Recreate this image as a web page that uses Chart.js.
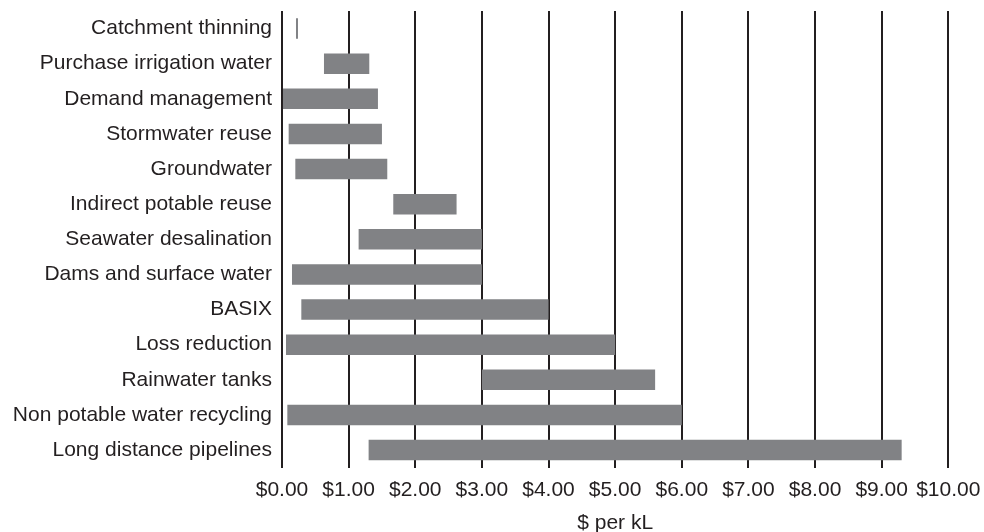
<!DOCTYPE html>
<html>
<head>
<meta charset="utf-8">
<script src="https://cdn.jsdelivr.net/npm/chart.js@4.4.1/dist/chart.umd.min.js"></script>
<style>
    html, body { margin: 0; padding: 0; background: #ffffff; }
    #wrap { width: 984px; height: 532px; }
</style>
</head>
<body>
<div id="wrap"><canvas id="costChart" width="984" height="532"></canvas></div>
<script>
// Options (top to bottom as they appear on the chart)
let options = [
    "Catchment thinning",
    "Purchase irrigation water",
    "Demand management",
    "Stormwater reuse",
    "Groundwater",
    "Indirect potable reuse",
    "Seawater desalination",
    "Dams and surface water",
    "BASIX",
    "Loss reduction",
    "Rainwater tanks",
    "Non potable water recycling",
    "Long distance pipelines"
];

// Low and high cost estimates, $ per kL
let lowCost  = [0.21, 0.63, 0.00, 0.10, 0.20, 1.67, 1.15, 0.15, 0.29, 0.06, 3.00, 0.08, 1.30];
let highCost = [0.24, 1.31, 1.44, 1.50, 1.58, 2.62, 3.00, 3.00, 4.00, 5.00, 5.60, 6.00, 9.30];

// x axis ticks
let tickValues = [0, 1, 2, 3, 4, 5, 6, 7, 8, 9, 10];

const ink = "#231f20";
const font = { family: "'Liberation Sans', Arial, Helvetica, sans-serif", size: 21 };

let ranges = lowCost.map((lo, i) => [lo, highCost[i]]);

const ctx = document.getElementById("costChart").getContext("2d");
new Chart(ctx, {
    type: "bar",
    data: {
        labels: options,
        datasets: [{
            label: "$ per kL",
            data: ranges,
            backgroundColor: "#818285",
            borderWidth: 0,
            categoryPercentage: 1.0,
            barPercentage: 0.585
        }]
    },
    options: {
        indexAxis: "y",
        responsive: false,
        animation: false,
        layout: { padding: { top: 11, right: 35.7, left: 0, bottom: 0 } },
        plugins: {
            legend: { display: false },
            tooltip: { enabled: false }
        },
        scales: {
            x: {
                type: "linear",
                min: tickValues[0],
                max: tickValues[tickValues.length - 1],
                afterBuildTicks: scale => {
                    scale.ticks = tickValues.map(v => ({ value: v }));
                },
                afterFit: scale => {
                    scale.height = 64.4;
                    scale.paddingLeft = 0;
                    scale.paddingRight = 0;
                },
                grid: { color: ink, lineWidth: 2, drawTicks: false },
                border: { display: false },
                ticks: {
                    color: ink,
                    font: font,
                    padding: 10,
                    maxRotation: 0,
                    autoSkip: false,
                    callback: v => "$" + Number(v).toFixed(2)
                },
                title: {
                    display: true,
                    text: "$ per kL",
                    color: ink,
                    font: { family: font.family, size: 21, lineHeight: 1 },
                    padding: { top: 0, bottom: -2 }
                }
            },
            y: {
                afterFit: scale => {
                    scale.width = 282;
                    scale.paddingTop = 0;
                    scale.paddingBottom = 0;
                },
                grid: { display: false, drawTicks: false },
                border: { display: false },
                ticks: { color: ink, font: font, padding: 10, autoSkip: false }
            }
        }
    }
});
</script>
</body>
</html>
